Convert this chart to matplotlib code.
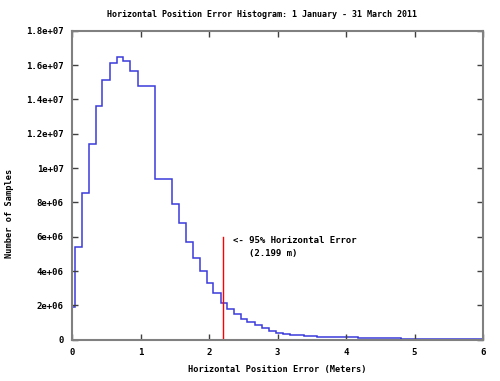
import numpy as np
import matplotlib
matplotlib.use('Agg')
import matplotlib.pyplot as plt

# histogram (bin edges in meters, counts in samples)
bin_edges = [0, 0.04, 0.14, 0.25, 0.35, 0.44, 0.55, 0.65, 0.75, 0.85, 0.96,
             1.21, 1.46, 1.56, 1.66, 1.76, 1.87, 1.97, 2.06, 2.17, 2.26,
             2.36, 2.46, 2.56, 2.67, 2.77, 2.88, 2.98, 3.08, 3.18, 3.38,
             3.58, 3.77, 4.18, 4.80, 6.0]
counts = [1.88e6, 5.4e6, 8.55e6, 1.138e7, 1.359e7, 1.514e7, 1.613e7, 1.644e7,
          1.626e7, 1.568e7, 1.479e7, 9.34e6, 7.93e6, 6.8e6, 5.70e6, 4.77e6,
          3.99e6, 3.28e6, 2.70e6, 2.15e6, 1.78e6, 1.48e6, 1.22e6, 1.03e6,
          0.84e6, 0.66e6, 0.51e6, 0.41e6, 0.33e6, 0.27e6, 0.215e6, 0.175e6,
          0.14e6, 0.10e6, 0.03e6]
err95 = 2.199
err95_top = 6e6

x_ticks = [0, 1, 2, 3, 4, 5, 6]
y_ticks = [0, 2e6, 4e6, 6e6, 8e6, 1e7, 1.2e7, 1.4e7, 1.6e7, 1.8e7]
y_labels = ['0', '2e+06', '4e+06', '6e+06', '8e+06', '1e+07',
            '1.2e+07', '1.4e+07', '1.6e+07', '1.8e+07']

plt.rcParams['font.family'] = 'DejaVu Sans Mono'
plt.rcParams['font.weight'] = 'bold'

fig = plt.figure(figsize=(5.0, 3.81), dpi=100)
ax = fig.add_axes([0.144, 0.1084, 0.822, 0.8110])

ax.stairs(counts, bin_edges, color='#3b3bdb', linewidth=1.1, baseline=None)
ax.plot([err95, err95], [0, err95_top], color='#ff0000', linewidth=1.0)

ax.text(2.35, 5.76e6, '<- 95% Horizontal Error', va='center', ha='left',
        fontsize=6.5, fontweight='bold')
ax.text(2.59, 5.02e6, '(%.3f m)' % err95, va='center', ha='left',
        fontsize=6.5, fontweight='bold')

ax.set_xlim(0, 6)
ax.set_ylim(0, 1.8e7)
ax.set_xticks(x_ticks)
ax.set_xticklabels([str(t) for t in x_ticks])
ax.set_yticks(y_ticks)
ax.set_yticklabels(y_labels)
ax.tick_params(direction='in', top=True, right=True, length=4,
               color='#404040', width=1, labelsize=6.5, pad=6)
for s in ax.spines.values():
    s.set_color('#808080')
    s.set_linewidth(1.5)

ax.set_xlabel('Horizontal Position Error (Meters)', fontsize=6.2,
              fontweight='bold')
ax.xaxis.set_label_coords(0.5, -0.082)
ax.set_ylabel('Number of Samples', fontsize=6.2, fontweight='bold')
ax.yaxis.set_label_coords(-0.141, 0.41)
fig.text(0.524, 0.963, 'Horizontal Position Error Histogram: 1 January - 31 March 2011',
         ha='center', va='center', fontsize=6.0, fontweight='bold')

fig.savefig('out.png', dpi=100)
